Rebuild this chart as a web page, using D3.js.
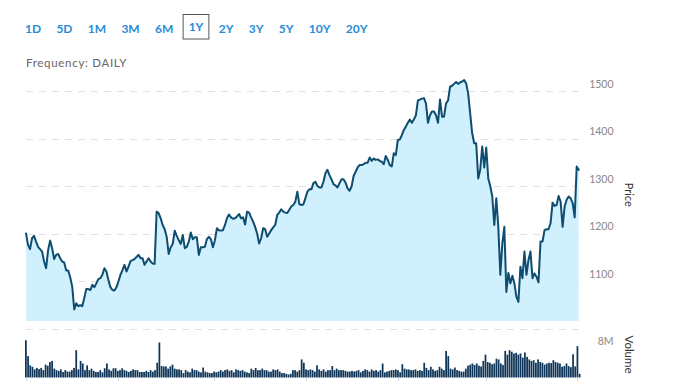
<!DOCTYPE html>
<html>
<head>
<meta charset="utf-8">
<script src="https://cdn.jsdelivr.net/npm/d3@7"></script>
<style>
  html, body { margin: 0; padding: 0; background: #fff; }
  svg { display: block; }
  text { font-family: Lato, "Open Sans", sans-serif; }
</style>
</head>
<body>
<svg id="chart" width="678" height="381"></svg>
<script>
// ---------- DATA ----------
const rangeButtons = ["1D", "5D", "1M", "3M", "6M", "1Y", "2Y", "3Y", "5Y", "10Y", "20Y"];
const selectedRange = "1Y";
const frequencyLabel = "Frequency: DAILY";
const priceTicks = [1100, 1200, 1300, 1400, 1500];
const priceGrid = [1000, 1100, 1200, 1300, 1400, 1500];
const volumeTicks = [8];
const volumeTickLabels = ["8M"];
const xTickDays = [0, 42, 86, 128, 170, 210, 252];

const price = [
  1200,1176,1167,1190,1195,1183,1172,1167,1162,1141,
  1127,1165,1185,1169,1146,1155,1157,1148,1141,1139,
  1122,1122,1108,1088,1040,1053,1047,1049,1047,1064,
  1083,1083,1081,1092,1087,1095,1104,1106,1113,1127,
  1120,1102,1087,1081,1080,1087,1099,1113,1123,1134,
  1120,1130,1142,1144,1146,1151,1155,1148,1148,1134,
  1141,1148,1141,1137,
  1136,1246,1243,1232,1218,1209,1193,1157,1171,1178,
  1206,1195,1186,1178,1197,1169,1172,1183,1202,1188,
  1192,1192,1155,1171,1171,1172,1188,1193,1188,1171,
  1186,1211,1207,1206,1207,1218,1232,1240,1234,1231,
  1232,1236,1241,1232,1234,1219,1246,1244,1234,1225,
  1214,1200,1179,1190,1211,1209,1193,1200,1207,1213,
  1218,1239,1244,1251,1246,1244,
  1243,1250,1257,1260,1267,1288,1262,1260,1261,1274,
  1288,1293,1293,1306,1309,1300,1297,1297,1309,1327,
  1334,1323,1314,1304,1301,1297,1306,1314,1314,1307,
  1295,1290,1299,1321,1330,1339,1344,1344,1346,1349,
  1349,1360,1353,1358,1355,1356,1353,1351,1346,1363,
  1355,1344,1341,1369,1365,1397,1398,1407,1418,1425,
  1433,1440,1433,1440,1449,1480,1482,1484,1485,
  1474,1433,1449,1457,1457,1449,1433,1482,1446,1446,
  1474,1480,1509,1511,1515,1519,1515,1518,1520,1523,
  1516,1495,1453,1411,1390,1390,1316,1334,1383,1339,
  1381,1316,1300,1278,1218,1274,1214,1113,1179,1214,
  1077,1117,1095,1111,1095,1067,1056,1130,1106,1162,
  1113,1144,1162,1106,1116,1109,1097,1183,1183,1207,
  1209,1209,1222,1265,1258,1260,1279,1267,1214,1257,
  1271,1278,1274,1264,1234,1341,1334
];

// daily volume, millions
const volume = [
  10.1,5.8,3.3,2.9,2.2,2.6,2.3,2.6,2.0,3.5,
  3.2,4.2,4.5,2.4,2.0,1.8,2.2,1.5,2.0,1.6,
  1.6,2.0,2.6,7.4,2.2,4.5,3.8,2.0,3.3,2.0,
  2.4,1.8,1.5,1.5,2.0,1.4,2.5,3.8,2.2,1.8,
  2.5,2.5,1.8,2.0,2.5,2.0,1.8,1.5,1.8,2.2,
  2.0,2.0,1.5,1.5,1.5,1.8,1.5,2.0,1.6,2.0,
  4.0,9.5,3.1,3.0,3.0,2.4,3.0,3.5,2.4,2.2,
  2.2,2.0,1.2,2.0,1.6,1.4,2.4,2.0,2.0,1.6,
  1.4,2.7,1.6,1.4,1.2,1.2,1.6,1.4,1.6,2.0,
  1.6,2.0,2.2,1.8,2.0,1.4,2.2,2.0,1.8,2.0,
  1.6,1.4,1.2,2.4,2.0,2.6,2.0,2.0,2.4,2.0,
  2.0,1.6,1.6,2.2,2.0,2.2,1.6,1.2,1.2,1.0,
  0.8,1.0,2.0,2.0,1.6,2.0,4.9,4.0,2.2,2.0,
  2.2,2.0,1.6,3.3,2.2,1.8,2.2,1.6,2.0,2.0,
  3.1,2.0,2.4,2.0,2.0,2.0,1.8,1.6,1.6,1.8,
  1.6,1.8,2.0,1.4,1.8,2.2,2.0,1.6,2.2,1.8,
  2.0,1.6,2.0,3.8,1.4,1.6,1.8,2.0,2.0,2.2,
  2.0,1.4,3.6,2.4,2.2,2.2,2.0,2.0,2.2,1.8,
  2.0,1.8,4.0,2.6,2.0,2.9,2.2,1.8,2.0,2.9,
  2.4,2.0,7.2,5.8,2.4,2.2,2.7,2.0,1.8,1.6,
  1.6,2.4,3.2,3.5,3.8,3.4,3.8,3.2,3.0,4.5,
  6.2,4.2,4.0,3.6,3.8,5.1,4.9,3.8,3.4,7.2,
  6.2,7.4,7.0,6.5,6.7,6.2,6.5,5.4,6.8,5.6,
  4.9,4.5,4.7,4.0,4.9,4.2,4.0,3.5,3.8,4.0,
  3.9,4.7,4.2,4.0,3.8,2.9,3.1,3.8,3.1,2.8,
  6.3,3.0,8.5,1.0
];

// ---------- LAYOUT ----------
const svg = d3.select("#chart");
const plotLeft = 26, plotRight = 578.7;
const pricePaneBottom = 321;

const xPrice = d3.scaleLinear().domain([0, price.length - 1]).range([plotLeft, plotRight]);
const yPrice = d3.scaleLinear().domain([1000, 1500]).range([328.5, 91]);
const xVol = d3.scaleBand().domain(d3.range(volume.length)).range([25, 580.5]).paddingInner(0.2);
const yVol = d3.scaleLinear().domain([0, 8]).range([377.5, 348]);

// range selector buttons
const btnG = svg.append("g");
let bx = 25;
rangeButtons.forEach(label => {
  const sel = label === selectedRange;
  const t = btnG.append("text")
    .attr("x", bx).attr("y", sel ? 31.3 : 33.3)
    .attr("font-size", 12).attr("font-weight", 700)
    .attr("fill", "#2a8cd8")
    .text(label);
  const w = t.node().getComputedTextLength();
  if (sel) {
    btnG.insert("rect", "text")
      .attr("x", bx - 5.5).attr("y", 14.5)
      .attr("width", w + 11).attr("height", 24.5)
      .attr("fill", "#fff").attr("stroke", "#555").attr("stroke-width", 1);
  }
  bx += w + 15.3;
});

svg.append("text")
  .attr("x", 26).attr("y", 66.7)
  .attr("font-size", 11.5).attr("fill", "#666")
  .attr("textLength", 100.5).attr("lengthAdjust", "spacing")
  .text(frequencyLabel);

// gridlines
svg.append("g").selectAll("line").data(priceGrid).join("line")
  .attr("x1", plotLeft).attr("x2", plotRight)
  .attr("y1", d => Math.round(yPrice(d)) + 0.5)
  .attr("y2", d => Math.round(yPrice(d)) + 0.5)
  .attr("stroke", "#e0e0e0").attr("stroke-width", 1)
  .attr("stroke-dasharray", "7,6");

// area + line
const area = d3.area()
  .x((d, i) => xPrice(i))
  .y0(pricePaneBottom)
  .y1(d => yPrice(d));
svg.append("path").datum(price)
  .attr("d", area).attr("fill", "#cff0fc");

const line = d3.line().x((d, i) => xPrice(i)).y(d => yPrice(d));
svg.append("path").datum(price)
  .attr("d", line).attr("fill", "none")
  .attr("stroke", "#0f4d70").attr("stroke-width", 2)
  .attr("stroke-linejoin", "round").attr("stroke-linecap", "round");

// price axis labels
svg.append("g").selectAll("text").data(priceTicks).join("text")
  .attr("x", 613.5).attr("y", d => yPrice(d) - 3.3)
  .attr("text-anchor", "end").attr("font-size", 10.5).attr("fill", "#888")
  .text(d => d);

// volume bars
svg.append("g").selectAll("rect").data(volume).join("rect")
  .attr("x", (d, i) => xVol(i))
  .attr("width", xVol.bandwidth())
  .attr("y", d => yVol(d))
  .attr("height", d => yVol(0) - yVol(d))
  .attr("fill", "#0f3658");

// volume axis labels
svg.append("g").selectAll("text").data(volumeTicks).join("text")
  .attr("x", 613.5).attr("y", d => yVol(d) - 3.3)
  .attr("text-anchor", "end").attr("font-size", 10.5).attr("fill", "#888")
  .text((d, i) => volumeTickLabels[i]);

// x ticks
svg.append("g").selectAll("line").data(xTickDays).join("line")
  .attr("x1", d => Math.round(xVol(d) + xVol.bandwidth() / 2) + 0.5)
  .attr("x2", d => Math.round(xVol(d) + xVol.bandwidth() / 2) + 0.5)
  .attr("y1", 377.5).attr("y2", 381)
  .attr("stroke", "#ccd6eb").attr("stroke-width", 1);

// axis titles
svg.append("text")
  .attr("transform", "translate(624.5,194.7) rotate(90)")
  .attr("text-anchor", "middle").attr("font-size", 11).attr("fill", "#333")
  .text("Price");
svg.append("text")
  .attr("transform", "translate(624.5,354.5) rotate(90)")
  .attr("text-anchor", "middle").attr("font-size", 11.5).attr("fill", "#333")
  .text("Volume");
</script>
</body>
</html>
